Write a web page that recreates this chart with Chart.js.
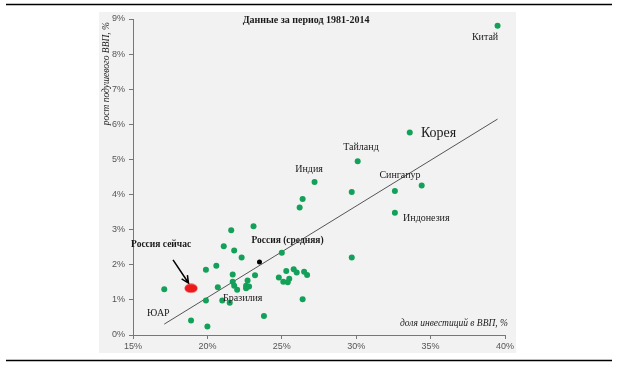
<!DOCTYPE html>
<html>
<head>
<meta charset="utf-8">
<script src="https://cdn.jsdelivr.net/npm/chart.js@4/dist/chart.umd.min.js"></script>
<style>
  body { margin: 0; background: #fff; }
  #wrap { width: 620px; height: 367px; }
</style>
</head>
<body>
<div id="wrap"><canvas id="myChart" width="620" height="367"></canvas></div>
<script>
'use strict';
// investment share of GDP (%) and per-capita GDP growth (%), 1981-2014
const investShare = [
  17.1, 18.9, 20.0, 19.9, 19.9, 20.6, 20.7, 21.1, 21.0, 21.6,
  21.8, 21.7, 21.7, 21.8, 22.0, 21.5, 22.3, 22.6, 22.7, 22.6,
  22.8, 23.1, 23.2, 23.8, 25.0, 24.8, 25.1, 25.3, 25.4, 25.5,
  25.8, 26.0, 26.5, 26.7, 26.4, 26.2, 26.4, 27.2, 29.7, 29.7,
  30.1, 33.6, 32.6, 34.4, 32.6, 39.5
];
const growth = [
  1.30, 0.41, 0.24, 0.98, 1.86, 1.97, 1.36, 2.53, 0.98, 2.98,
  2.41, 1.72, 1.52, 1.40, 1.29, 0.92, 2.21, 1.33, 1.55, 1.40,
  1.38, 3.10, 1.70, 0.54, 2.34, 1.64, 1.52, 1.82, 1.50, 1.60,
  1.87, 1.78, 1.80, 1.71, 1.02, 3.63, 3.87, 4.36, 4.07, 2.21,
  4.95, 5.77, 4.10, 4.26, 3.48, 8.81
];
const russiaNow = { x: 18.9, y: 1.33 };
const russiaAvg = { x: 23.5, y: 2.08 };
const trendX = [17.1, 39.5];
const trendY = [0.31, 6.15];

const xTicks = [15, 20, 25, 30, 35, 40];
const yTicks = [0, 1, 2, 3, 4, 5, 6, 7, 8, 9];

const title = 'Данные за период 1981-2014';
const yTitle = 'рост подушевого ВВП, %';
const xTitle = 'доля инвестиций в ВВП, %';

/////////////////////////////////////////////////////////

const points = investShare.map((v, i) => ({ x: v, y: growth[i] }));
const trend = trendX.map((v, i) => ({ x: v, y: trendY[i] }));

// red ellipse marker for "Россия сейчас"
const redDot = document.createElement('canvas');
redDot.width = 14;
redDot.height = 10;
(function () {
  const c = redDot.getContext('2d');
  c.fillStyle = '#ec1b1b';
  c.beginPath();
  c.ellipse(7, 5, 6.5, 4.5, 0, 0, Math.PI * 2);
  c.fill();
})();

// text labels, placed in data units
const notes = [
  { text: 'Китай', x: 38.66, y: 8.49, align: 'center', font: '10px "Liberation Serif"' },
  { text: 'Корея', x: 34.35, y: 5.75, align: 'left', font: '14px "Liberation Serif"' },
  { text: 'Тайланд', x: 30.32, y: 5.33, align: 'center', font: '10px "Liberation Serif"' },
  { text: 'Индия', x: 26.83, y: 4.73, align: 'center', font: '10px "Liberation Serif"' },
  { text: 'Сингапур', x: 32.94, y: 4.56, align: 'center', font: '10px "Liberation Serif"' },
  { text: 'Индонезия', x: 33.15, y: 3.33, align: 'left', font: '10px "Liberation Serif"' },
  { text: 'Россия (средняя)', x: 22.96, y: 2.68, align: 'left', font: 'bold 9.5px "Liberation Serif"' },
  { text: 'Россия сейчас', x: 14.87, y: 2.59, align: 'left', font: 'bold 9.5px "Liberation Serif"' },
  { text: 'Бразилия', x: 21.05, y: 1.05, align: 'left', font: '10px "Liberation Serif"' },
  { text: 'ЮАР', x: 15.94, y: 0.63, align: 'left', font: '10px "Liberation Serif"' },
  { text: title, x: 26.63, y: 8.97, align: 'center', font: 'bold 10px "Liberation Serif"' },
  { text: xTitle, x: 40.2, y: 0.34, align: 'right', font: 'italic 9.5px "Liberation Serif"' }
];
const arrow = { x1: 17.69, y1: 2.14, x2: 18.73, y2: 1.48 };

const pagePlugin = {
  id: 'page',
  beforeDraw(chart) {
    const c = chart.ctx;
    c.save();
    c.fillStyle = '#fff';
    c.fillRect(0, 0, chart.width, chart.height);
    c.fillStyle = '#f2f2f2';
    c.fillRect(99, 12, 417, 341);
    c.strokeStyle = '#000';
    c.lineWidth = 1.5;
    c.beginPath();
    c.moveTo(6, 4.5); c.lineTo(612, 4.5);
    c.moveTo(6, 360.5); c.lineTo(612, 360.5);
    c.stroke();
    c.restore();
  },
  afterDraw(chart) {
    const c = chart.ctx;
    const sx = chart.scales.x, sy = chart.scales.y;
    c.save();
    c.fillStyle = '#1a1a1a';
    c.textBaseline = 'middle';
    notes.forEach(n => {
      c.font = n.font;
      c.textAlign = n.align;
      c.fillText(n.text, sx.getPixelForValue(n.x), sy.getPixelForValue(n.y));
    });
    // y axis title
    c.font = 'italic 9.5px "Liberation Serif"';
    c.textAlign = 'right';
    c.translate(106, 22);
    c.rotate(-Math.PI / 2);
    c.fillText(yTitle, 0, 0);
    c.restore();

    // arrow to "Россия сейчас"
    const ax1 = sx.getPixelForValue(arrow.x1), ay1 = sy.getPixelForValue(arrow.y1);
    const ax2 = sx.getPixelForValue(arrow.x2), ay2 = sy.getPixelForValue(arrow.y2);
    const ang = Math.atan2(ay2 - ay1, ax2 - ax1);
    c.save();
    c.strokeStyle = '#000';
    c.lineWidth = 1.5;
    c.beginPath();
    c.moveTo(ax1, ay1); c.lineTo(ax2, ay2);
    c.moveTo(ax2 - 8 * Math.cos(ang - 0.45), ay2 - 8 * Math.sin(ang - 0.45));
    c.lineTo(ax2, ay2);
    c.lineTo(ax2 - 8 * Math.cos(ang + 0.45), ay2 - 8 * Math.sin(ang + 0.45));
    c.stroke();
    c.restore();
  }
};

const axisColor = '#777';
const tickFont = { family: '"Liberation Sans"', size: 9 };

let chart = new Chart(document.getElementById('myChart').getContext('2d'), {
  data: {
    datasets: [
      {
        type: 'line',
        data: trend,
        borderColor: '#555',
        borderWidth: 1,
        pointRadius: 0,
        fill: false,
        order: 3
      },
      {
        type: 'scatter',
        data: points,
        backgroundColor: '#13a058',
        borderWidth: 0,
        pointRadius: 3,
        order: 2
      },
      {
        type: 'scatter',
        data: [russiaAvg],
        backgroundColor: '#000',
        borderWidth: 0,
        pointRadius: 2.5,
        order: 1
      },
      {
        type: 'scatter',
        data: [russiaNow],
        pointStyle: redDot,
        pointRadius: 6,
        order: 0
      }
    ]
  },
  options: {
    responsive: false,
    animation: false,
    layout: { padding: { left: 0, top: 19, right: 115, bottom: 0 } },
    plugins: { legend: { display: false }, tooltip: { enabled: false } },
    scales: {
      x: {
        type: 'linear',
        min: 15,
        max: 40,
        afterBuildTicks: s => { s.ticks = xTicks.map(v => ({ value: v })); },
        afterFit: s => { s.height = 32; },
        border: { display: true, color: axisColor, width: 1 },
        grid: { drawOnChartArea: false, drawTicks: true, tickLength: 4, color: axisColor },
        ticks: { color: '#555', font: tickFont, padding: 2, callback: v => v + '%' }
      },
      y: {
        type: 'linear',
        min: 0,
        max: 9,
        afterBuildTicks: s => { s.ticks = yTicks.map(v => ({ value: v })); },
        afterFit: s => { s.width = 133; },
        border: { display: true, color: axisColor, width: 1 },
        grid: { drawOnChartArea: false, drawTicks: true, tickLength: 4, color: axisColor },
        ticks: { color: '#555', font: tickFont, padding: 4, callback: v => v + '%' }
      }
    }
  },
  plugins: [pagePlugin]
});
</script>
</body>
</html>
